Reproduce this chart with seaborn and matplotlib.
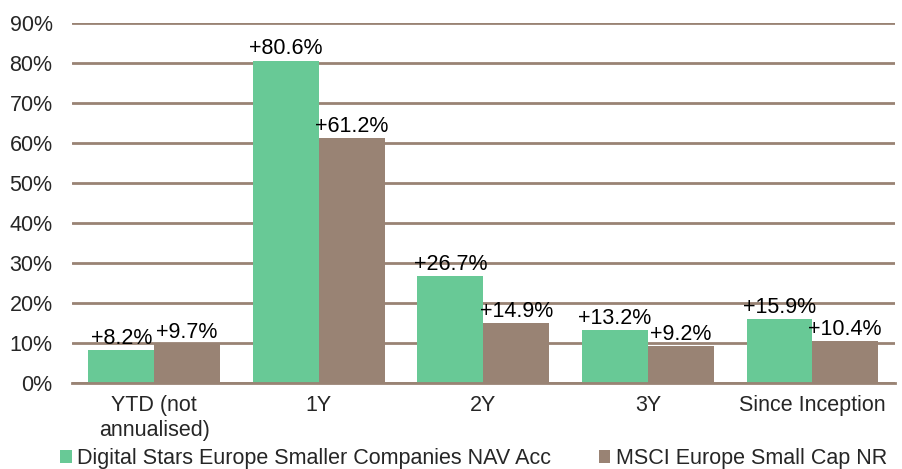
import pandas as pd
import matplotlib.pyplot as plt
import seaborn as sns
import numpy as np

periods = ['YTD (not\nannualised)', '1Y', '2Y', '3Y', 'Since Inception']
fund_name = 'Digital Stars Europe Smaller Companies NAV Acc'
index_name = 'MSCI Europe Small Cap NR'
fund_values = [8.2, 80.6, 26.7, 13.2, 15.9]
index_values = [9.7, 61.2, 14.9, 9.2, 10.4]

GREEN = '#68c996'
BROWN = '#998374'

df = pd.DataFrame({
    'Period': periods * 2,
    'Series': [fund_name] * 5 + [index_name] * 5,
    'Return': fund_values + index_values,
})

sns.set_theme(style='white')
plt.rcParams['font.family'] = ['Liberation Sans', 'DejaVu Sans']

fig = plt.figure(figsize=(9.02, 4.69), dpi=100)
ax = fig.add_axes([0.0798, 0.1834, 0.912, 0.7676])

sns.barplot(data=df, x='Period', y='Return', hue='Series',
            palette=[GREEN, BROWN], width=0.8, saturation=1,
            linewidth=0, ax=ax, zorder=2)

for container in ax.containers:
    ax.bar_label(container, fmt='+%.1f%%', padding=1, fontsize=15.5, color='black')

ax.set_ylim(0, 90)
ax.set_xlim(-0.5, 4.5)
ax.set_yticks(np.arange(0, 91, 10))
ax.set_yticklabels([f'{v}%' for v in range(0, 91, 10)], fontsize=15.5)
ax.tick_params(axis='y', length=0, pad=14)
ax.tick_params(axis='x', which='major', length=0, labelsize=15.5, pad=9)
for lbl in ax.get_xticklabels():
    lbl.set_linespacing(1.25)
ax.set_xticks(np.arange(-0.5, 5, 1), minor=True)
ax.tick_params(axis='x', which='minor', length=5, width=2, color=BROWN, direction='out')
ax.yaxis.grid(True, color=BROWN, linewidth=2, zorder=0)
ax.set_axisbelow(True)
for s in ['top', 'right', 'left']:
    ax.spines[s].set_visible(False)
ax.spines['bottom'].set_color(BROWN)
ax.spines['bottom'].set_linewidth(2)
ax.set_xlabel('')
ax.set_ylabel('')

ax.legend(loc='center left', bbox_to_anchor=(-0.025, -0.21), ncol=2, frameon=False,
          fontsize=15.5, handlelength=0.55, handleheight=0.55, handletextpad=0.25,
          columnspacing=2.2, borderaxespad=0)

plt.savefig('out.png', dpi=100)
plt.close()
